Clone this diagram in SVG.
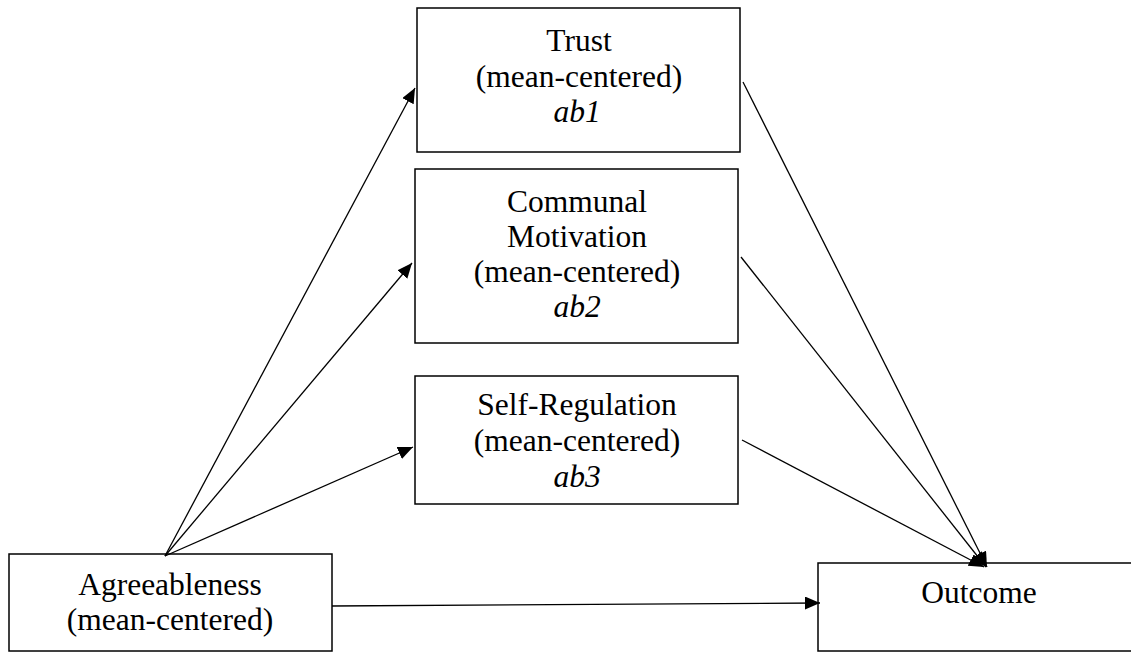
<svg xmlns="http://www.w3.org/2000/svg" width="1131" height="652" viewBox="0 0 1131 652">
<defs>
<style>
.box{fill:#fff;stroke:#000;stroke-width:1.5}
.t{font-family:"Liberation Serif","Times New Roman",serif;font-size:31.5px;fill:#000;text-anchor:middle}
.i{font-style:italic}
.c{stroke:#000;stroke-width:1.3;fill:none;marker-end:url(#ah)}
</style>
<marker id="ah" markerUnits="userSpaceOnUse" markerWidth="16" markerHeight="14" refX="15" refY="6.5" orient="auto">
<path d="M0,0 L15,6.5 L0,13 z" fill="#000"/>
</marker>
</defs>
<rect width="1131" height="652" fill="#fff"/>
<g id="trust">
<rect class="box" x="417" y="8" width="323" height="144"/>
<text class="t" x="579" y="51">Trust</text>
<text class="t" x="579" y="87">(mean-centered)</text>
<text class="t i" x="577" y="122">ab1</text>
</g>
<g id="communal">
<rect class="box" x="415" y="169" width="323" height="174"/>
<text class="t" x="577" y="212">Communal</text>
<text class="t" x="577" y="247">Motivation</text>
<text class="t" x="577" y="282">(mean-centered)</text>
<text class="t i" x="577" y="317">ab2</text>
</g>
<g id="selfreg">
<rect class="box" x="415" y="376" width="323" height="128"/>
<text class="t" x="577" y="415">Self-Regulation</text>
<text class="t" x="577" y="451">(mean-centered)</text>
<text class="t i" x="577" y="487">ab3</text>
</g>
<g id="agree">
<rect class="box" x="9" y="554" width="323" height="97"/>
<text class="t" x="170" y="595">Agreeableness</text>
<text class="t" x="170" y="630">(mean-centered)</text>
</g>
<g id="outcome">
<rect class="box" x="818" y="563" width="325" height="88"/>
<text class="t" x="979" y="603">Outcome</text>
</g>
<g id="connectors">
<line class="c" x1="165" y1="556" x2="415" y2="88"/>
<line class="c" x1="165" y1="556" x2="412" y2="263"/>
<line class="c" x1="165" y1="556" x2="413" y2="447"/>
<line class="c" x1="332" y1="606" x2="820" y2="603"/>
<line class="c" x1="743" y1="82" x2="987" y2="567"/>
<line class="c" x1="741" y1="257" x2="986" y2="567"/>
<line class="c" x1="742" y1="440" x2="984" y2="567"/>
</g>
</svg>
